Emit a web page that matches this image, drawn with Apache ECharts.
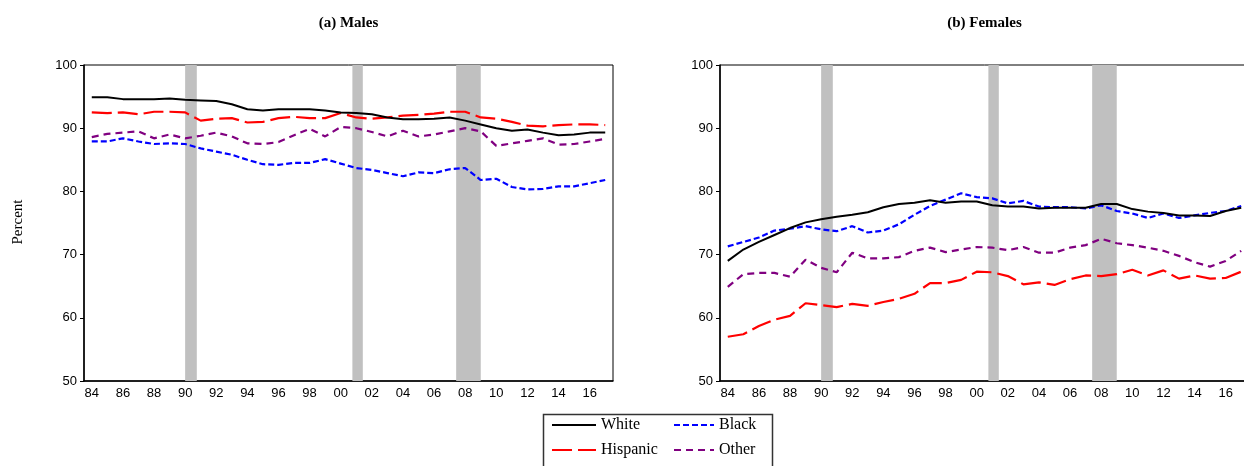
<!DOCTYPE html>
<html><head><meta charset="utf-8">
<script src="https://cdn.jsdelivr.net/npm/echarts@6/dist/echarts.min.js"></script>
<style>html,body{margin:0;padding:0;background:#fff;overflow:hidden}#c{width:1252px;height:466px}</style>
</head><body><div id="c"></div>
<script>
// Categories (years 1984-2017)
const years = ['84','85','86','87','88','89','90','91','92','93','94','95','96','97','98','99',
  '00','01','02','03','04','05','06','07','08','09','10','11','12','13','14','15','16','17'];

// Recession periods (fractional years)
const recessions = [[1990.5, 1991.25], [2001.25, 2001.92], [2007.92, 2009.5]];

// (a) Males
const maleWhite = [94.9, 94.9, 94.6, 94.6, 94.6, 94.7, 94.5, 94.4, 94.3, 93.8, 93.0, 92.8, 93.0, 93.0, 93.0, 92.8,
  92.5, 92.4, 92.2, 91.7, 91.4, 91.4, 91.5, 91.7, 91.2, 90.6, 90.0, 89.6, 89.8, 89.3, 88.9, 89.0, 89.3, 89.3];
const maleHispanic = [92.5, 92.4, 92.5, 92.2, 92.6, 92.6, 92.5, 91.2, 91.5, 91.6, 90.9, 91.0, 91.6, 91.8, 91.6, 91.6,
  92.4, 91.7, 91.5, 91.7, 92.0, 92.1, 92.3, 92.6, 92.6, 91.7, 91.5, 91.0, 90.4, 90.3, 90.5, 90.6, 90.6, 90.5];
const maleBlack = [87.9, 87.9, 88.4, 87.9, 87.5, 87.6, 87.5, 86.8, 86.3, 85.8, 85.0, 84.3, 84.2, 84.5, 84.5, 85.1,
  84.4, 83.7, 83.4, 82.9, 82.4, 83.0, 82.9, 83.5, 83.7, 81.8, 82.0, 80.7, 80.3, 80.4, 80.8, 80.8, 81.3, 81.8];
const maleOther = [88.6, 89.1, 89.3, 89.5, 88.4, 89.0, 88.4, 88.8, 89.3, 88.7, 87.6, 87.5, 87.8, 88.9, 89.9, 88.7,
  90.2, 90.0, 89.4, 88.7, 89.6, 88.7, 89.0, 89.5, 90.0, 89.5, 87.2, 87.6, 88.0, 88.4, 87.4, 87.5, 87.9, 88.3];

// (b) Females
const femaleWhite = [69.0, 70.8, 72.0, 73.1, 74.2, 75.1, 75.6, 76.0, 76.3, 76.7, 77.5, 78.0, 78.2, 78.6, 78.2, 78.4,
  78.4, 77.8, 77.6, 77.6, 77.3, 77.4, 77.4, 77.4, 78.0, 78.0, 77.2, 76.8, 76.6, 76.2, 76.2, 76.1, 76.9, 77.4];
const femaleHispanic = [57.0, 57.4, 58.7, 59.7, 60.3, 62.3, 62.0, 61.7, 62.2, 61.9, 62.5, 63.0, 63.8, 65.5, 65.5, 66.0,
  67.3, 67.2, 66.6, 65.3, 65.6, 65.2, 66.1, 66.7, 66.6, 66.9, 67.6, 66.7, 67.5, 66.2, 66.7, 66.2, 66.3, 67.3];
const femaleBlack = [71.3, 72.0, 72.7, 73.8, 74.1, 74.5, 74.0, 73.7, 74.5, 73.5, 73.8, 74.8, 76.3, 77.7, 78.7, 79.7,
  79.1, 78.9, 78.1, 78.5, 77.6, 77.5, 77.5, 77.3, 77.8, 76.9, 76.5, 75.8, 76.5, 75.8, 76.2, 76.6, 76.9, 77.7];
const femaleOther = [64.9, 66.9, 67.1, 67.1, 66.5, 69.2, 67.9, 67.2, 70.3, 69.4, 69.4, 69.6, 70.6, 71.1, 70.4, 70.8,
  71.2, 71.1, 70.7, 71.2, 70.3, 70.3, 71.1, 71.5, 72.5, 71.8, 71.5, 71.1, 70.6, 69.8, 68.8, 68.1, 69.0, 70.6];

const panelTitles = ['(a) Males', '(b) Females'];
const yTicks = { min: 50, max: 100, interval: 10 };

const styles = {
  White:    { color: '#000000', type: 'solid', width: 2 },
  Hispanic: { color: '#ff0000', type: [20, 6], width: 2.2 },
  Black:    { color: '#0000ff', type: [6, 3], width: 2.2 },
  Other:    { color: '#800080', type: [7, 5], width: 2.2 }
};

const panels = [
  { White: maleWhite, Hispanic: maleHispanic, Black: maleBlack, Other: maleOther },
  { White: femaleWhite, Hispanic: femaleHispanic, Black: femaleBlack, Other: femaleOther }
];

const gridLefts = [84, 720];
const grids = [], xAxes = [], yAxes = [], series = [];
const axisFont = { color: '#000', fontSize: 13, fontFamily: 'Liberation Sans, Arial, sans-serif' };

panels.forEach((p, i) => {
  grids.push({ left: gridLefts[i], top: 65, width: 529, height: 316, show: true, borderColor: '#000', borderWidth: 1, containLabel: false });
  xAxes.push({
    type: 'category', gridIndex: i, data: years, boundaryGap: true,
    axisLine: { lineStyle: { color: '#000', width: 1.5 } },
    axisTick: { inside: true, length: 4, interval: 0, lineStyle: { color: '#000' } },
    axisLabel: Object.assign({ interval: 1, margin: 6 }, axisFont),
    splitLine: { show: false }
  });
  xAxes.push({ type: 'value', gridIndex: i, min: 1984, max: 2018, show: false });
  yAxes.push({
    type: 'value', gridIndex: i, min: yTicks.min, max: yTicks.max, interval: yTicks.interval,
    axisLine: { show: true, lineStyle: { color: '#000', width: 1.5 } },
    axisTick: { show: true, inside: false, length: 4, lineStyle: { color: '#000' } },
    axisLabel: Object.assign({ margin: 7 }, axisFont),
    splitLine: { show: false }
  });
  series.push({
    type: 'line', xAxisIndex: 2 * i + 1, yAxisIndex: i, data: [], silent: true, z: 1,
    markArea: { silent: true, itemStyle: { color: '#c0c0c0' },
      data: recessions.map(r => [{ xAxis: r[0] }, { xAxis: r[1] }]) }
  });
  ['Other', 'Black', 'Hispanic', 'White'].forEach(name => {
    series.push({
      name, type: 'line', xAxisIndex: 2 * i, yAxisIndex: i, data: p[name],
      symbol: 'none', showSymbol: false, smooth: false, z: 3,
      lineStyle: { color: styles[name].color, type: styles[name].type, width: styles[name].width },
      itemStyle: { color: styles[name].color }
    });
  });
});

const legendText = { fontFamily: 'Liberation Serif, Times New Roman, serif', fontSize: 16, color: '#000', lineHeight: 16 };
const legendCommon = { orient: 'vertical', top: 417, padding: 0, itemHeight: 14, itemGap: 9,
  textStyle: legendText, selectedMode: false, itemStyle: { opacity: 0, borderWidth: 0 } };

const option = {
  animation: false,
  backgroundColor: '#fff',
  grid: grids, xAxis: xAxes, yAxis: yAxes, series,
  legend: [
    Object.assign({ data: ['White', 'Hispanic'], left: 551, itemWidth: 44 }, legendCommon),
    Object.assign({ data: ['Black', 'Other'], left: 673, itemWidth: 40 }, legendCommon)
  ],
  graphic: [
    { type: 'rect', shape: { x: 543.5, y: 414.5, width: 229, height: 60 }, style: { fill: 'none', stroke: '#333', lineWidth: 1.5 }, z: 0 },
    { type: 'text', x: 348.5, y: 23, style: { text: panelTitles[0], textAlign: 'center', textVerticalAlign: 'middle', font: 'bold 15px "Liberation Serif"', fill: '#000' } },
    { type: 'text', x: 984.5, y: 23, style: { text: panelTitles[1], textAlign: 'center', textVerticalAlign: 'middle', font: 'bold 15px "Liberation Serif"', fill: '#000' } },
    { type: 'text', x: 18, y: 222, rotation: Math.PI / 2, style: { text: 'Percent', textAlign: 'center', textVerticalAlign: 'middle', font: '15px "Liberation Serif"', fill: '#000' } }
  ]
};

const chart = echarts.init(document.getElementById('c'));
chart.setOption(option);
</script>
</body></html>
